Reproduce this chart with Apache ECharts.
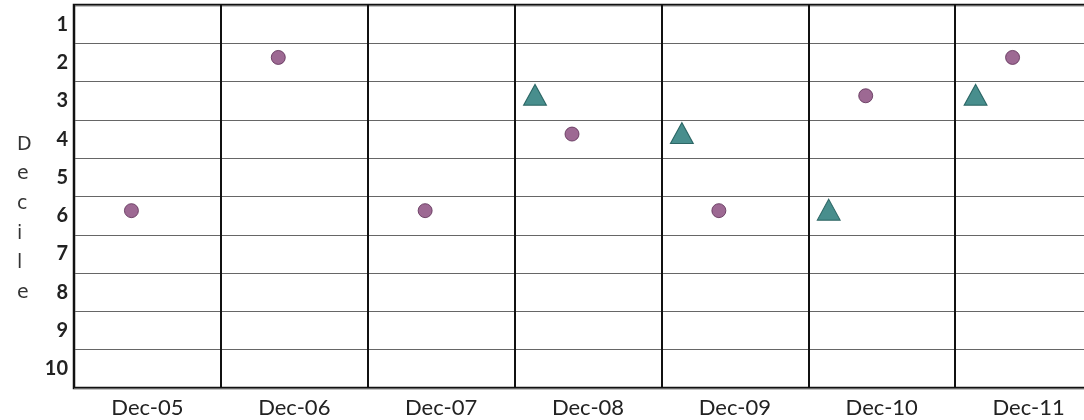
<!DOCTYPE html>
<html>
<head>
<meta charset="utf-8">
<script src="https://cdn.jsdelivr.net/npm/echarts@6/dist/echarts.min.js"></script>
<style>
html,body{margin:0;padding:0;background:#fff;}
#chart{width:1084px;height:420px;}
</style>
</head>
<body>
<div id="chart"></div>
<script>
const months = ['Dec-05','Dec-06','Dec-07','Dec-08','Dec-09','Dec-10','Dec-11'];
const deciles = ['1','2','3','4','5','6','7','8','9','10'];
const circleValues = [6, 2, 6, 4, 6, 3, 2];
const triangleValues = [null, null, null, 3, 4, 6, 3];
const axisTitle = 'Decile';

const chart = echarts.init(document.getElementById('chart'));

const circleData = circleValues.map((v, i) => v == null ? null : [months[i], String(v)]).filter(d => d);
const triangleData = triangleValues.map((v, i) => v == null ? null : [months[i], String(v)]).filter(d => d);

chart.setOption({
  backgroundColor: '#ffffff',
  animation: false,
  grid: {
    left: 74, top: 5, height: 383, width: 1028,
    outerBoundsMode: 'none',
    containLabel: false,
    show: true, borderColor: '#111', borderWidth: 2.5, backgroundColor: 'transparent'
  },
  graphic: [{
    type: 'text',
    left: 17, top: 130,
    style: {
      text: axisTitle.split('').join('\n'),
      font: '19px "DejaVu Sans"',
      fill: '#333',
      lineHeight: 29.6,
      align: 'center'
    }
  }],
  xAxis: {
    type: 'category',
    data: months,
    boundaryGap: true,
    axisLine: { show: false },
    axisTick: { show: false },
    axisLabel: {
      interval: 0, margin: 9,
      fontFamily: 'Lato', fontSize: 22, color: '#222'
    },
    splitLine: { show: true, interval: 0, lineStyle: { color: '#111', width: 2 } }
  },
  yAxis: {
    type: 'category',
    data: deciles,
    inverse: true,
    boundaryGap: true,
    axisLine: { show: false },
    axisTick: { show: false },
    axisLabel: {
      interval: 0, margin: 6,
      fontFamily: 'Lato', fontWeight: 'bold', fontSize: 20, color: '#222'
    },
    splitLine: { show: true, interval: 0, lineStyle: { color: '#666', width: 1.2 } }
  },
  series: [
    {
      type: 'scatter',
      data: circleData,
      symbol: 'circle',
      symbolSize: 14,
      symbolOffset: [-16, -5],
      itemStyle: { color: '#844478', borderColor: '#5a2a52', borderWidth: 1 },
      z: 3
    },
    {
      type: 'scatter',
      data: triangleData,
      symbol: 'triangle',
      symbolSize: [23, 21],
      symbolOffset: [-53, -6],
      itemStyle: { color: '#1a7270', borderColor: '#0f4e4c', borderWidth: 1 },
      z: 3
    }
  ]
});
</script>
</body>
</html>
